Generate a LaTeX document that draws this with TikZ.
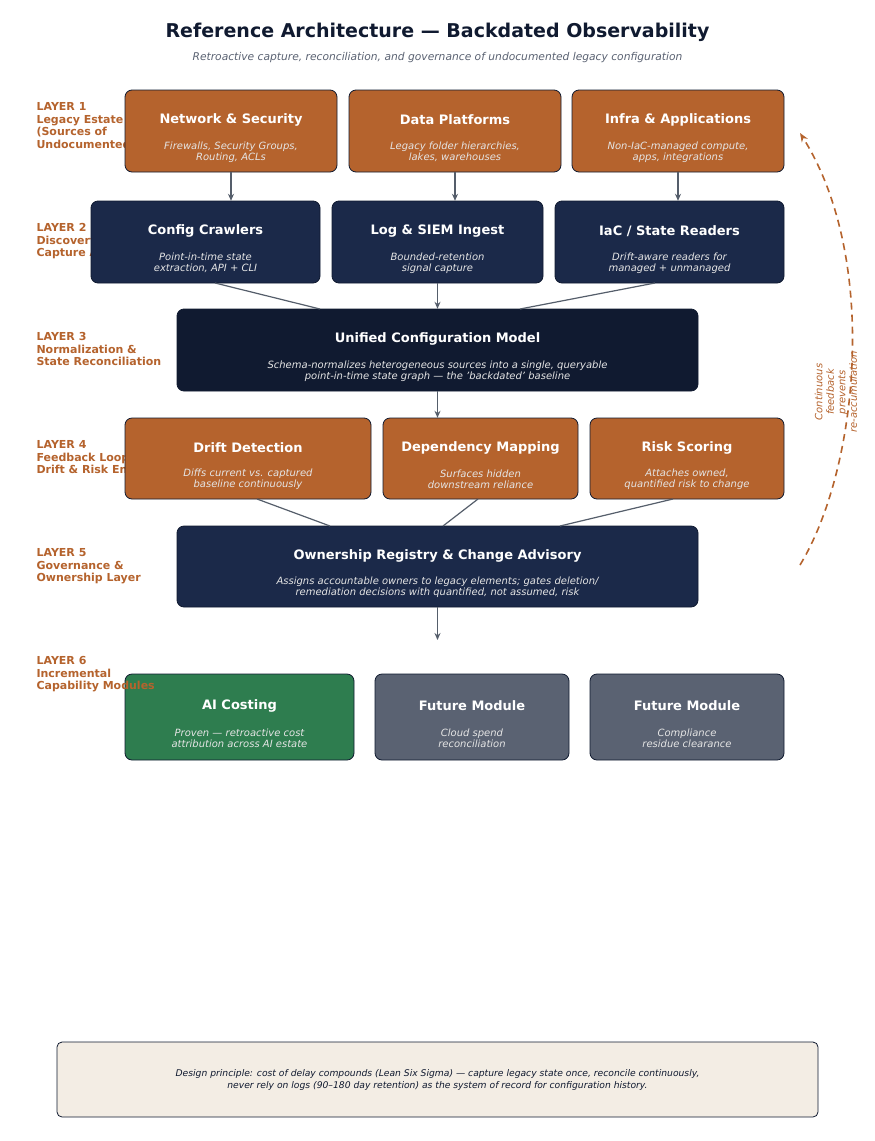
\documentclass[tikz,border=0pt]{standalone}
\usepackage{fontspec}
\setmainfont{DejaVu Sans}
\usetikzlibrary{arrows.meta,calc}
\definecolor{rust}{HTML}{B5632D}
\definecolor{navy}{HTML}{1B2949}
\definecolor{ink}{HTML}{101A30}
\definecolor{leaf}{HTML}{2E7D4F}
\definecolor{slate}{HTML}{5A6272}
\definecolor{wire}{HTML}{555E6B}
\definecolor{paper}{HTML}{F3EDE4}
\tikzset{
  blk/.style={draw=ink, rounded corners=7pt, line width=0.8pt},
  ttl/.style={text=white, font=\bfseries\fontsize{13}{15}\selectfont},
  sub/.style={text=white!90!black, font=\itshape\fontsize{10}{11}\selectfont, align=center},
  lyr/.style={text=rust, font=\bfseries\fontsize{11}{12.5}\selectfont, align=left, anchor=north west},
  flow/.style={draw=wire, line width=1.2pt, -{Stealth[length=7pt,width=6pt]}},
  tie/.style={draw=wire, line width=1.2pt},
}
% box: name, x1, y1, x2, y2, fill, title, subtitle
\newcommand{\archbox}[8]{
  \path[blk, fill=#6] (#2,#3) rectangle (#4,#5);
  \node[inner sep=0, minimum width={(#4-#2)*1pt}, minimum height={(#5-#3)*1pt}] (#1) at ({(#2+#4)/2},{(#3+#5)/2}) {};
  \node[ttl] at ($(#1.center)+(0,-11)$) {#7};
  \node[sub] at ($(#1.center)+(0,21)$) {#8};
}
\begin{document}
\begin{tikzpicture}[x=1pt,y=-1pt]
\useasboundingbox[fill=white] (0,0) rectangle (875,1141);

% title
\node[text=ink, font=\bfseries\fontsize{19}{23}\selectfont] (title) at (437.5,32) {Reference Architecture — Backdated Observability};
\node[text=slate, font=\itshape\fontsize{10.7}{13}\selectfont] (subtitle) at (437.5,58) {Retroactive capture, reconciliation, and governance of undocumented legacy configuration};

% layer labels
\node[lyr] (l1) at (33,99) {LAYER 1\\Legacy Estate\\(Sources of\\Undocumented Config)};
\node[lyr] (l2) at (33,220) {LAYER 2\\Discovery \&\\Capture Agents};
\node[lyr] (l3) at (33,329) {LAYER 3\\Normalization \&\\State Reconciliation};
\node[lyr] (l4) at (33,437) {LAYER 4\\Feedback Loop —\\Drift \& Risk Engine};
\node[lyr] (l5) at (33,545) {LAYER 5\\Governance \&\\Ownership Layer};

% layer 1
\archbox{net}{125}{90}{337}{172}{rust}{Network \& Security}{Firewalls, Security Groups,\\Routing, ACLs}
\archbox{data}{349}{90}{561}{172}{rust}{Data Platforms}{Legacy folder hierarchies,\\lakes, warehouses}
\archbox{infra}{572}{90}{784}{172}{rust}{Infra \& Applications}{Non-IaC-managed compute,\\apps, integrations}

% layer 2
\archbox{crawl}{91}{201}{320}{283}{navy}{Config Crawlers}{Point-in-time state\\extraction, API + CLI}
\archbox{siem}{332}{201}{543}{283}{navy}{Log \& SIEM Ingest}{Bounded-retention\\signal capture}
\archbox{iac}{555}{201}{784}{283}{navy}{IaC / State Readers}{Drift-aware readers for\\managed + unmanaged}

% layer 3
\archbox{ucm}{177}{309}{698}{391}{ink}{Unified Configuration Model}{Schema-normalizes heterogeneous sources into a single, queryable\\point-in-time state graph — the 'backdated' baseline}

% layer 4
\archbox{drift}{125}{418}{371}{499}{rust}{Drift Detection}{Diffs current vs. captured\\baseline continuously}
\archbox{dep}{383}{418}{578}{499}{rust}{Dependency Mapping}{Surfaces hidden\\downstream reliance}
\archbox{risk}{590}{418}{784}{499}{rust}{Risk Scoring}{Attaches owned,\\quantified risk to change}

% layer 5
\archbox{own}{177}{526}{698}{607}{navy}{Ownership Registry \& Change Advisory}{Assigns accountable owners to legacy elements; gates deletion/\\remediation decisions with quantified, not assumed, risk}

% layer 6
\archbox{ai}{125}{674}{354}{760}{leaf}{AI Costing}{Proven — retroactive cost\\attribution across AI estate}
\archbox{fut1}{375}{674}{569}{760}{slate}{Future Module}{Cloud spend\\reconciliation}
\archbox{fut2}{590}{674}{784}{760}{slate}{Future Module}{Compliance\\residue clearance}
\node[lyr] (l6) at (33,653) {LAYER 6\\Incremental\\Capability Modules};

% connectors
\draw[flow] (net.south) -- (net.south |- crawl.north);
\draw[flow] (data.south) -- (data.south |- siem.north);
\draw[flow] (infra.south) -- (infra.south |- iac.north);
\coordinate (ucmL) at (320,309);
\coordinate (ucmR) at (520,309);
\draw[tie] (215,283) -- (ucmL);
\draw[flow] (ucm.north |- siem.south) -- (ucm.north);
\draw[tie] (655,283) -- (ucmR);
\draw[flow] (ucm.south) -- (ucm.south |- dep.north);
\coordinate (ownL) at (330,526);
\coordinate (ownM) at (443,526);
\coordinate (ownR) at (560,526);
\draw[tie] (257,499) -- (ownL);
\draw[tie] (478,499) -- (ownM);
\draw[tie] (673,499) -- (ownR);
\coordinate (l6top) at (437.5,640);
\draw[flow] (own.south) -- (l6top);

% feedback arc
\coordinate (fbA) at (800,565);
\coordinate (fbB) at (800,133);
\draw[rust, line width=1.6pt, dash pattern=on 7pt off 5pt, -{Stealth[length=9pt,width=7pt]}]
  (fbA) .. controls (858,470) and (880,260) .. (fbB);
\node[rotate=90, text=rust, font=\itshape\fontsize{10}{11.5}\selectfont, align=center] (fbtxt) at (836,392) {Continuous\\feedback\\prevents\\re-accumulation};

% footer
\path[draw=ink, fill=paper, rounded corners=5pt, line width=0.8pt] (57,1042) rectangle (818,1117);
\node[text=ink, font=\itshape\fontsize{9.2}{11.5}\selectfont, align=center] (note) at (437.5,1080) {Design principle: cost of delay compounds (Lean Six Sigma) — capture legacy state once, reconcile continuously,\\never rely on logs (90–180 day retention) as the system of record for configuration history.};
\end{tikzpicture}
\end{document}
